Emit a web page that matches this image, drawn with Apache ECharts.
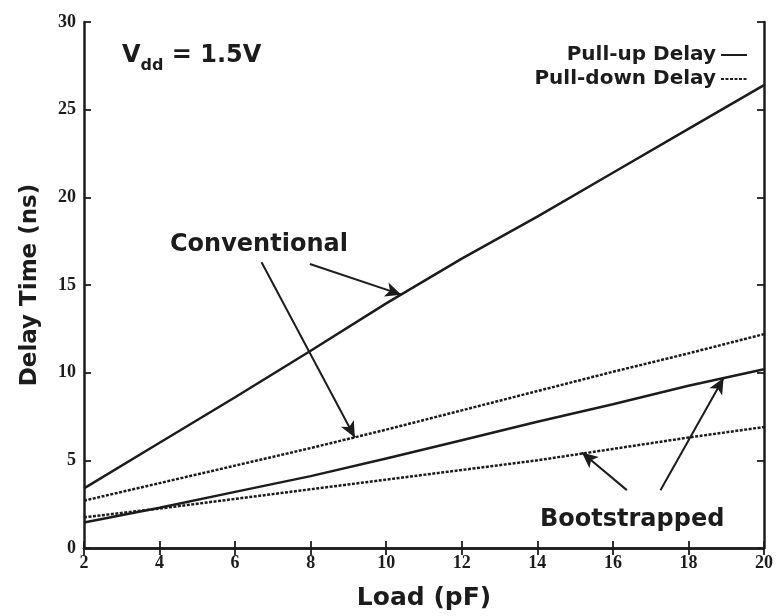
<!DOCTYPE html>
<html>
<head>
<meta charset="utf-8">
<script src="https://cdn.jsdelivr.net/npm/echarts@6/dist/echarts.min.js"></script>
<style>
html,body{margin:0;padding:0;background:#fff;}
#chart{width:777px;height:616px;}
</style>
</head>
<body>
<div id="chart"></div>
<script>
// ---- data ----
const loads = [2, 4, 6, 8, 10, 12, 14, 16, 18, 20];            // Load (pF)
const convPullUp   = [3.4, 6.0, 8.6, 11.25, 13.95, 16.5, 18.9, 21.4, 23.9, 26.4];
const convPullDown = [2.7, 3.7, 4.7, 5.7, 6.75, 7.85, 8.95, 10.05, 11.1, 12.2];
const bootPullUp   = [1.45, 2.3, 3.2, 4.1, 5.1, 6.15, 7.2, 8.2, 9.25, 10.2];
const bootPullDown = [1.75, 2.25, 2.8, 3.35, 3.9, 4.45, 5.0, 5.65, 6.3, 6.9];
const xTicks = [2, 4, 6, 8, 10, 12, 14, 16, 18, 20];
const yTicks = [0, 5, 10, 15, 20, 25, 30];
// annotation arrows: [fromX, fromY, toX, toY] in data units
const convArrows = [[7.98, 16.2, 10.4, 14.45], [6.7, 16.3, 9.17, 6.3]];
const bootArrows = [[16.37, 3.3, 15.18, 5.45], [17.26, 3.3, 18.93, 9.7]];

const INK = '#1c1c1c';
const pair = arr => loads.map((x, i) => [x, arr[i]]);
const arrowLines = list => list.map(a => [{coord: [a[0], a[1]]}, {coord: [a[2], a[3]]}]);

const solid = {color: INK, width: 2.5, type: 'solid'};
const dotted = {color: INK, width: 2.5, type: [3, 1.5]};
const arrowMark = list => ({
  silent: true,
  symbol: ['none', 'arrow'],
  symbolSize: [11, 16],
  lineStyle: {color: INK, width: 2, type: 'solid'},
  label: {show: false},
  emphasis: {disabled: true},
  data: arrowLines(list)
});

const chart = echarts.init(document.getElementById('chart'), null, {renderer: 'canvas'});
const serifLabel = {fontFamily: 'Liberation Serif', fontWeight: 'bold', fontSize: 18, color: INK};

chart.setOption({
  animation: false,
  backgroundColor: '#fff',
  grid: {left: 84, right: 13, top: 22, bottom: 65},
  legend: {
    orient: 'vertical', right: 24, top: 40, align: 'right',
    itemGap: 4, itemWidth: 26, itemHeight: 10,
    itemStyle: {opacity: 0},
    textStyle: {fontFamily: 'DejaVu Sans', fontWeight: 'bold', fontSize: 20, color: INK},
    data: ['Pull-up Delay', 'Pull-down Delay'],
    selectedMode: false
  },
  xAxis: [{
    type: 'value', min: xTicks[0], max: xTicks[xTicks.length - 1], interval: 2,
    axisLine: {lineStyle: {color: INK, width: 2.5}},
    axisTick: {inside: true, length: 7, lineStyle: {color: INK, width: 1.8}},
    axisLabel: Object.assign({margin: 6}, serifLabel),
    splitLine: {show: false},
    name: 'Load (pF)', nameLocation: 'middle', nameGap: 38,
    nameTextStyle: {fontFamily: 'DejaVu Sans', fontWeight: 'bold', fontSize: 25, color: INK}
  }, {
    type: 'value', position: 'top', min: xTicks[0], max: xTicks[xTicks.length - 1], interval: 2,
    axisLine: {show: true, lineStyle: {color: INK, width: 2.5}},
    axisTick: {inside: true, length: 7, lineStyle: {color: INK, width: 1.8}},
    axisLabel: {show: false}, splitLine: {show: false}
  }],
  yAxis: [{
    type: 'value', min: yTicks[0], max: yTicks[yTicks.length - 1], interval: 5,
    axisLine: {show: true, lineStyle: {color: INK, width: 2.5}},
    axisTick: {show: true, inside: true, length: 7, lineStyle: {color: INK, width: 1.8}},
    axisLabel: Object.assign({margin: 8}, serifLabel),
    splitLine: {show: false},
    name: 'Delay Time (ns)', nameLocation: 'middle', nameGap: 42,
    nameTextStyle: {fontFamily: 'DejaVu Sans', fontWeight: 'bold', fontSize: 23, color: INK}
  }, {
    type: 'value', position: 'right', min: yTicks[0], max: yTicks[yTicks.length - 1], interval: 5,
    axisLine: {show: true, lineStyle: {color: INK, width: 2.5}},
    axisTick: {show: true, inside: true, length: 7, lineStyle: {color: INK, width: 1.8}},
    axisLabel: {show: false}, splitLine: {show: false}
  }],
  series: [
    {name: 'Pull-up Delay', type: 'line', data: pair(convPullUp), symbol: 'none', lineStyle: solid, itemStyle: {color: INK},
     markLine: arrowMark(convArrows)},
    {name: 'Pull-down Delay', type: 'line', data: pair(convPullDown), symbol: 'none', lineStyle: dotted, itemStyle: {color: INK}},
    {name: 'Pull-up Delay', type: 'line', data: pair(bootPullUp), symbol: 'none', lineStyle: solid, itemStyle: {color: INK},
     markLine: arrowMark(bootArrows)},
    {name: 'Pull-down Delay', type: 'line', data: pair(bootPullDown), symbol: 'none', lineStyle: dotted, itemStyle: {color: INK}}
  ],
  graphic: [
    {type: 'text', left: 122, top: 44, silent: true,
     style: {text: '{v|V}{s|dd}{v| = 1.5V}', fill: INK,
       rich: {v: {fontFamily: 'DejaVu Sans', fontWeight: 'bold', fontSize: 24, color: INK, verticalAlign: 'bottom'},
              s: {fontFamily: 'DejaVu Sans', fontWeight: 'bold', fontSize: 16, color: INK, verticalAlign: 'bottom', padding: [0, 0, -6, 0]}}}},
    {type: 'text', left: 170, top: 233, silent: true,
     style: {text: 'Conventional', fill: INK, font: 'bold 24px "DejaVu Sans"'}},
    {type: 'text', left: 540, top: 508, silent: true,
     style: {text: 'Bootstrapped', fill: INK, font: 'bold 24px "DejaVu Sans"'}}
  ]
});
</script>
</body>
</html>
